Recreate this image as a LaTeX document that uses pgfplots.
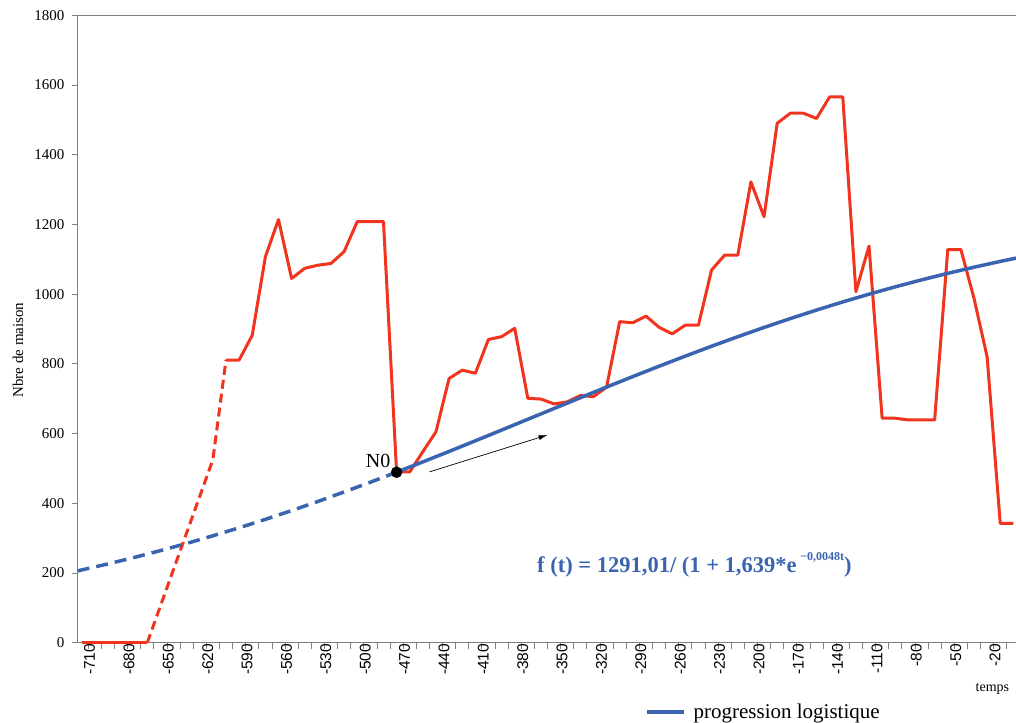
\documentclass[border=0pt]{standalone}
\usepackage{pgfplots}
\pgfplotsset{compat=1.18}
\usepackage{fontspec}
\setmainfont{Liberation Serif}
\newfontfamily\arialfont{Liberation Sans}
\usetikzlibrary{calc,arrows.meta}
\definecolor{myred}{RGB}{240,52,30}
\definecolor{myblue}{RGB}{58,100,176}
\definecolor{axgray}{RGB}{128,128,128}
\begin{document}
\begin{tikzpicture}
\begin{axis}[
  name=ax,
  scale only axis,
  width=938.3pt, height=627.4pt,
  xmin=-713, xmax=2, ymin=0, ymax=1800,
  clip=false,
  axis line style={axgray, line width=0.9pt},
  tick style={axgray, line width=0.8pt},
  major tick length=6pt,
  tick align=outside,
  xtick pos=bottom, ytick pos=left,
  ytick={0,200,...,1800},
  /pgf/number format/assume math mode=true,
  /pgf/number format/1000 sep={},
  yticklabel style={font=\fontsize{15}{17}\selectfont, inner sep=2pt, xshift=-5pt},
  xtick={-705,-695,...,-5},
  xticklabels={},
  extra x ticks={-710,-680,-650,-620,-590,-560,-530,-500,-470,-440,-410,-380,-350,-320,-290,-260,-230,-200,-170,-140,-110,-80,-50,-20},
  extra x tick labels={-710,-680,-650,-620,-590,-560,-530,-500,-470,-440,-410,-380,-350,-320,-290,-260,-230,-200,-170,-140,-110,-80,-50,-20},
  extra x tick style={major tick length=0pt},
  xticklabel style={rotate=90, anchor=east, font=\arialfont\fontsize{15.5}{17}\selectfont, inner sep=1pt, yshift=-8pt},
  legend style={draw=none, fill=none, at={(0.6045,-0.1105)}, anchor=west, inner sep=0pt,
    font=\fontsize{21}{23}\selectfont, /tikz/every even column/.append style={column sep=0pt}},
  legend image code/.code={\draw[#1,solid] (0pt,0pt) -- (37pt,0pt);},
]
% red zero segment
\addplot[myred, line width=3pt, forget plot] coordinates {(-710,0) (-700,0) (-690,0) (-680,0) (-670,0) (-660,0)};
% red dashed rise
\addplot[myred, line width=3pt, dash pattern=on 9pt off 5pt, forget plot] coordinates {(-660,0) (-610,525) (-600,811)};
% red main series
\addplot[myred, line width=3pt, line join=round, forget plot] coordinates {
(-600,811) (-590,811) (-580,882) (-570,1107) (-560,1214) (-550,1045) (-540,1074) (-530,1083)
(-520,1088) (-510,1122) (-500,1208) (-490,1208) (-480,1208) (-470,490) (-460,490) (-450,548)
(-440,605) (-430,758) (-420,782) (-410,773) (-400,870) (-390,878) (-380,902) (-370,701)
(-360,699) (-350,685) (-340,691) (-330,709) (-320,706) (-310,733) (-300,921) (-290,918)
(-280,937) (-270,905) (-260,886) (-250,911) (-240,911) (-230,1069) (-220,1112) (-210,1112)
(-200,1322) (-190,1222) (-180,1490) (-170,1519) (-160,1519) (-150,1504) (-140,1566) (-130,1566)
(-120,1007) (-110,1138) (-100,644) (-90,644) (-80,639) (-70,639) (-60,639) (-50,1128)
(-40,1128) (-30,988) (-20,820) (-10,342) (0,342)};
% blue dashed logistic part
\addplot[myblue, line width=3.5pt, dash pattern=on 12pt off 7pt, forget plot] coordinates {
(-713,206.0) (-710,208.7) (-690,226.0) (-670,244.5) (-650,264.1) (-630,284.8) (-610,306.7)
(-590,329.7) (-570,353.8) (-550,379.0) (-530,405.2) (-510,432.4) (-490,460.4) (-470,489.2)};
% blue solid logistic part
\addplot[myblue, line width=3.5pt] coordinates {
(-470,489.2) (-450,518.7) (-430,548.7) (-410,579.2) (-390,610.0) (-370,641.0) (-350,671.9)
(-330,702.8) (-310,733.4) (-290,763.5) (-270,793.2) (-250,822.2) (-230,850.5) (-210,877.9)
(-190,904.4) (-170,929.9) (-150,954.3) (-130,977.7) (-110,999.9) (-90,1021.0) (-70,1040.9)
(-50,1059.7) (-30,1077.3) (-10,1093.9) (2,1103.4)};
\addlegendentry{\hspace{6pt}progression logistique}
% N0 point
\addplot[only marks, mark=*, mark size=5.5pt, black, forget plot] coordinates {(-470,489)};
\node[font=\fontsize{20}{22}\selectfont] at (axis cs:-484,521) {N0};
\draw[-{Latex[length=9pt,width=5pt]}, line width=0.7pt, black] (axis cs:-445,490) -- (axis cs:-355,596);
\node[anchor=west, text=myblue, font=\bfseries\fontsize{22.5}{24}\selectfont, inner sep=0pt] at (axis cs:-363,223)
  {f (t) = 1291,01/ (1 + 1,639*e\,\raisebox{0.5em}{\fontsize{12}{12}\selectfont −0,0048t})};
\node[font=\fontsize{14}{16}\selectfont] at (axis cs:-16,-133) {temps};
\end{axis}
\node[rotate=90, font=\fontsize{15}{17}\selectfont] at ($(ax.south west)+(-59.7pt,292.7pt)$) {Nbre de maison};
\pgfresetboundingbox
\path[use as bounding box] ($(ax.south west)+(-77.7pt,-79.3pt)$) rectangle ($(ax.north east)+(0pt,15.3pt)$);
\end{tikzpicture}
\end{document}
